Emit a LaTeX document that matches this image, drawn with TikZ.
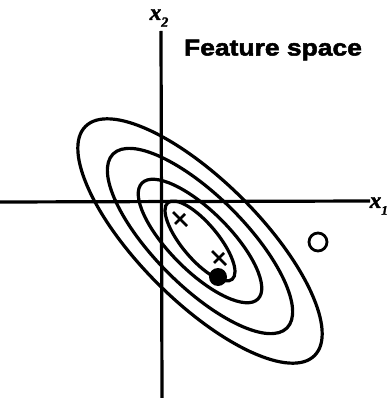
\documentclass[tikz,border=0pt]{standalone}
\usepackage{fontspec}
\setmainfont{Liberation Sans}
\newfontface\heavy{Liberation Sans Bold}[FakeBold=2.2,FakeStretch=1.15]
\newfontface\serifbi{Liberation Serif Bold Italic}[FakeBold=2]
\begin{document}
\begin{tikzpicture}[x=1pt,y=-1pt,
  curve/.style={line width=3.2pt},
  mark line/.style={line width=2.6pt},
  axlabel/.style={font=\serifbi\fontsize{23}{23}\selectfont, inner sep=0pt}]
\useasboundingbox (0,0) rectangle (388,398);
\coordinate (c) at (200,241);
\coordinate (ytop) at (161,31);
\coordinate (ybot) at (162,398);
\coordinate (xl) at (0,202);
\coordinate (xr) at (370,201);
\draw[curve] (ytop) -- (ybot);
\draw[curve] (xl) -- (xr);
\node[axlabel] (x2) at (159,18) {x\raisebox{-0.3em}{\fontsize{14}{14}\selectfont 2}};
\node[axlabel, anchor=east] (x1) at (388,206) {x\raisebox{-0.3em}{\fontsize{13}{13}\selectfont 1}};
\node[font=\heavy\fontsize{23}{23}\selectfont, inner sep=0pt] (title) at (273,50) {Feature space};
% contours
\draw[curve, rotate around={-45:(c)}] (c) ellipse [x radius=162pt, y radius=60pt];
\draw[curve, rotate around={-45:(c)}] (c) ellipse [x radius=123pt, y radius=45pt];
\draw[curve, rotate around={-45:(c)}] (c) ellipse [x radius=82pt, y radius=30pt];
\draw[curve, rotate around={-50:(c)}] (c) ellipse [x radius=50pt, y radius=18pt];
% markers
\coordinate (m1) at (180,219);
\coordinate (m2) at (219,258);
\draw[mark line] (m1) ++(-7,-7) -- ++(14,14);
\draw[mark line] (m1) ++(5,-5) -- ++(-10,10);
\draw[mark line] (m2) ++(-7,-7) -- ++(14,14);
\draw[mark line] (m2) ++(5,-5) -- ++(-10,10);
\node[circle, fill=black, minimum size=18pt, inner sep=0pt] (dot) at (218,277) {};
\node[circle, draw=black, line width=2.8pt, minimum size=18pt, inner sep=0pt] (ring) at (318,242) {};
\end{tikzpicture}
\end{document}
